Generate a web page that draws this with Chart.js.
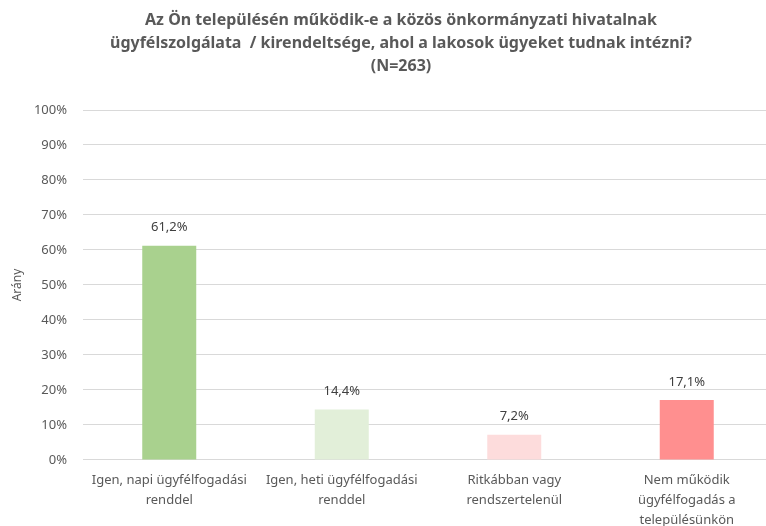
<!DOCTYPE html>
<html>
<head>
<meta charset="utf-8">
<script src="https://cdn.jsdelivr.net/npm/chart.js@4"></script>
<style>
  html, body { margin: 0; padding: 0; background: #fff; overflow: hidden; }
  #wrap { width: 800px; height: 540px; }
</style>
</head>
<body>
<div id="wrap"><canvas id="chart" width="800" height="540"></canvas></div>
<script>
// -------------------------------
// DATA
// -------------------------------
const categories = [
  ["Igen, napi ügyfélfogadási", "renddel"],
  ["Igen, heti ügyfélfogadási", "renddel"],
  ["Ritkábban vagy", "rendszertelenül"],
  ["Nem működik", "ügyfélfogadás a", "településünkön"]
];
const values = [61.2, 14.4, 7.2, 17.1];
const valueLabels = ["61,2%", "14,4%", "7,2%", "17,1%"];
const barColors = ["#a9d18e", "#e2efd9", "#fddcdc", "#ff8f8f"];
const yTicks = [0, 10, 20, 30, 40, 50, 60, 70, 80, 90, 100];
const titleLines = [
  "Az Ön településén működik-e a közös önkormányzati hivatalnak",
  "ügyfélszolgálata  / kirendeltsége, ahol a lakosok ügyeket tudnak intézni?",
  "(N=263)"
];

const FONT = "'Noto Sans', 'Open Sans', sans-serif";
const GREY = "#595959";

// title centred on the whole (uncropped) chart, like the Excel original
const titlePlugin = {
  id: "centredTitle",
  afterDraw(chart) {
    const ctx = chart.ctx;
    ctx.save();
    ctx.font = "bold 16px " + FONT;
    ctx.fillStyle = GREY;
    ctx.textAlign = "center";
    ctx.textBaseline = "middle";
    titleLines.forEach((line, i) => {
      ctx.fillText(line, 401, 20.5 + i * 23.2);
    });
    ctx.restore();
  }
};

// value labels above bars
const barValuePlugin = {
  id: "barValues",
  afterDatasetsDraw(chart) {
    const ctx = chart.ctx;
    const meta = chart.getDatasetMeta(0);
    ctx.save();
    ctx.font = "13px " + FONT;
    ctx.fillStyle = "#404040";
    ctx.textAlign = "center";
    ctx.textBaseline = "middle";
    meta.data.forEach((bar, i) => {
      ctx.fillText(valueLabels[i], bar.x, bar.y - 18);
    });
    ctx.restore();
  }
};

new Chart(document.getElementById("chart"), {
  type: "bar",
  data: {
    labels: categories,
    datasets: [{
      data: values,
      backgroundColor: barColors,
      borderWidth: 0,
      categoryPercentage: 1,
      barPercentage: 0.313
    }]
  },
  options: {
    responsive: false,
    animation: false,
    layout: { padding: { left: 0, right: 27, top: 110, bottom: 0 } },
    plugins: {
      legend: { display: false },
      tooltip: { enabled: false },
      title: { display: false }
    },
    scales: {
      x: {
        grid: { display: false, drawTicks: false },
        border: { color: "#d9d9d9" },
        ticks: {
          color: GREY,
          font: { family: FONT, size: 13, lineHeight: 1.54 },
          maxRotation: 0,
          autoSkip: false,
          padding: 10
        }
      },
      y: {
        min: 0,
        max: 100,
        afterBuildTicks(scale) {
          scale.ticks = yTicks.map(v => ({ value: v }));
        },
        afterFit(scale) { scale.width = 83; },
        grid: { color: "#d9d9d9", drawTicks: false },
        border: { display: false },
        ticks: {
          color: GREY,
          font: { family: FONT, size: 13 },
          padding: 16,
          callback: v => v + "%"
        },
        title: {
          display: true,
          text: "Arány",
          color: GREY,
          font: { family: FONT, size: 12 },
          padding: { top: 10, bottom: 0 }
        }
      }
    }
  },
  plugins: [barValuePlugin, titlePlugin]
});
</script>
</body>
</html>
